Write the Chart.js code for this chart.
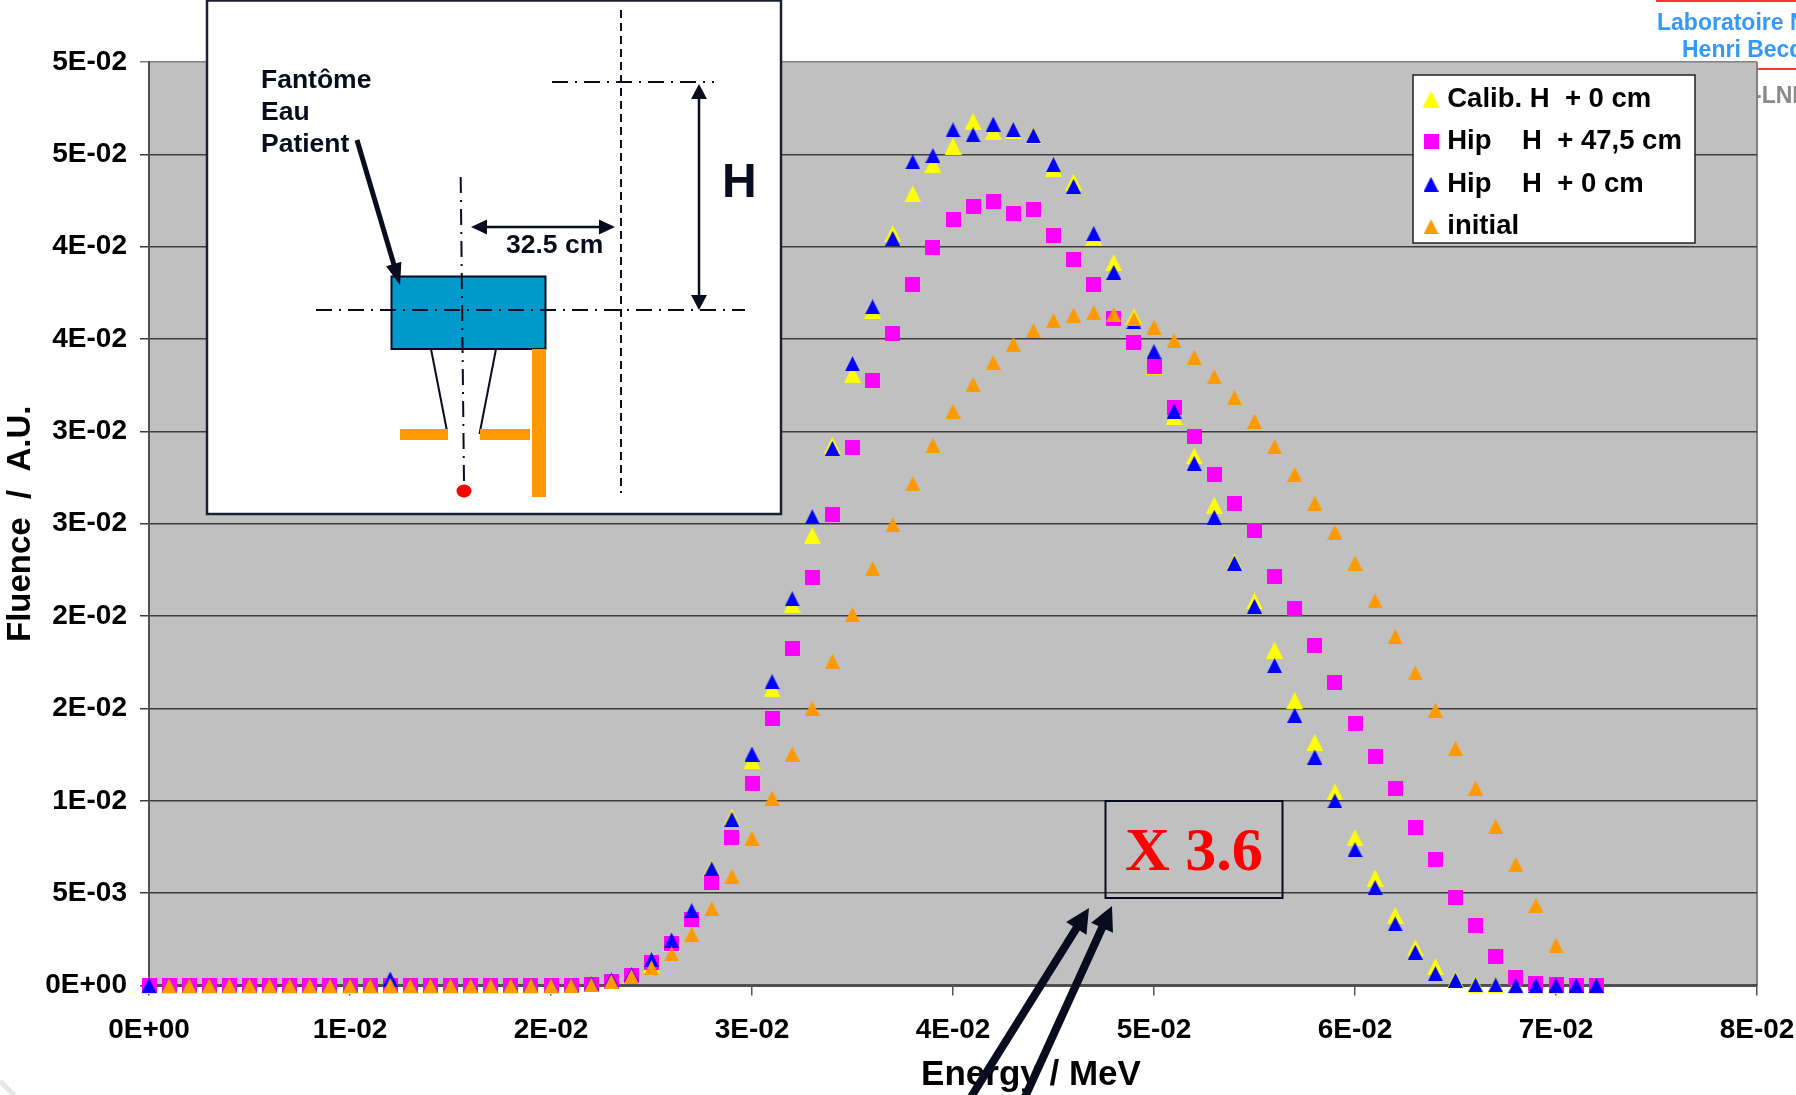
<!DOCTYPE html>
<html>
<head>
<meta charset="utf-8">
<title>Fluence / Energy</title>
<style>
    html, body { margin: 0; padding: 0; background: #fff; }
    canvas { display: block; }
</style>
<script src="https://cdn.jsdelivr.net/npm/chart.js@4/dist/chart.umd.min.js"></script>
</head>
<body>
<canvas id="grafico" width="1796" height="1095"></canvas>
<script>
// Values, one entry per energy step
const energy = [
    0.000, 0.001, 0.002, 0.003, 0.004, 0.005, 0.006, 0.007, 0.008, 0.009,
    0.010, 0.011, 0.012, 0.013, 0.014, 0.015, 0.016, 0.017, 0.018, 0.019,
    0.020, 0.021, 0.022, 0.023, 0.024, 0.025, 0.026, 0.027, 0.028, 0.029,
    0.030, 0.031, 0.032, 0.033, 0.034, 0.035, 0.036, 0.037, 0.038, 0.039,
    0.040, 0.041, 0.042, 0.043, 0.044, 0.045, 0.046, 0.047, 0.048, 0.049,
    0.050, 0.051, 0.052, 0.053, 0.054, 0.055, 0.056, 0.057, 0.058, 0.059,
    0.060, 0.061, 0.062, 0.063, 0.064, 0.065, 0.066, 0.067, 0.068, 0.069,
    0.070, 0.071, 0.072
];
const calibH0 = [
    0, 0, 0, 0, 0, 0, 0, 0, 0, 0,
    0, 0, 0, 0, 0, 0, 0, 0, 0, 0,
    0.00001, 0.00004, 0.00012, 0.00028, 0.00055, 0.00116, 0.00228, 0.00383, 0.00636, 0.00909,
    0.01217, 0.01607, 0.02062, 0.02437, 0.02925, 0.03309, 0.03655, 0.04071, 0.04286, 0.04444,
    0.04545, 0.04679, 0.04625, 0.04630, 0.04602, 0.04423, 0.04350, 0.04051, 0.03913, 0.03621,
    0.03349, 0.03080, 0.02867, 0.02600, 0.02293, 0.02082, 0.01816, 0.01542, 0.01315, 0.01048,
    0.00800, 0.00582, 0.00380, 0.00205, 0.00102, 0.00031, 0.00008, 0.00003, 0.00002, 0.00002,
    0.00002, 0.00002, 0.00002
];
const hipH475 = [
    0, 0, 0, 0, 0, 0, 0, 0, 0, 0,
    0, 0.00001, 0.00001, 0, 0, 0, 0, 0, 0, 0,
    0.00001, 0.00002, 0.00008, 0.00024, 0.00055, 0.00126, 0.00225, 0.00360, 0.00555, 0.00802,
    0.01093, 0.01443, 0.01826, 0.02208, 0.02549, 0.02912, 0.03273, 0.03531, 0.03793, 0.03995,
    0.04148, 0.04219, 0.04246, 0.04181, 0.04200, 0.04063, 0.03932, 0.03798, 0.03612, 0.03482,
    0.03354, 0.03128, 0.02971, 0.02766, 0.02609, 0.02462, 0.02215, 0.02042, 0.01842, 0.01639,
    0.01420, 0.01241, 0.01066, 0.00857, 0.00681, 0.00479, 0.00326, 0.00156, 0.00042, 0.00010,
    0.00003, 0, 0
];
const hipH0 = [
    0, 0, 0, 0, 0, 0, 0, 0, 0, 0,
    0, 0, 0.00035, 0, 0, 0, 0, 0, 0, 0,
    0, 0.00002, 0.00010, 0.00030, 0.00058, 0.00140, 0.00246, 0.00405, 0.00632, 0.00900,
    0.01253, 0.01645, 0.02093, 0.02537, 0.02908, 0.03366, 0.03674, 0.04045, 0.04459, 0.04493,
    0.04632, 0.04605, 0.04663, 0.04634, 0.04602, 0.04444, 0.04327, 0.04071, 0.03861, 0.03594,
    0.03432, 0.03109, 0.02827, 0.02535, 0.02287, 0.02053, 0.01732, 0.01463, 0.01237, 0.00999,
    0.00735, 0.00530, 0.00333, 0.00180, 0.00064, 0.00028, 0.00003, 0.00003, 0, 0,
    0, 0, 0
];
const initial = [
    null, 0, 0, 0, 0, 0, 0, 0, 0, 0,
    0, 0, 0, 0, 0, 0, 0, 0, 0, 0,
    0, 0.00001, 0.00004, 0.00021, 0.00050, 0.00096, 0.00171, 0.00277, 0.00416, 0.00591,
    0.00797, 0.01015, 0.01253, 0.01501, 0.01755, 0.02008, 0.02257, 0.02495, 0.02717, 0.02925,
    0.03110, 0.03255, 0.03374, 0.03472, 0.03545, 0.03600, 0.03630, 0.03643, 0.03634, 0.03609,
    0.03565, 0.03491, 0.03401, 0.03296, 0.03183, 0.03055, 0.02917, 0.02768, 0.02611, 0.02454,
    0.02287, 0.02083, 0.01889, 0.01692, 0.01490, 0.01284, 0.01069, 0.00862, 0.00656, 0.00434,
    0.00218, null, null
];

const xTickLabels = ['0E+00', '1E-02', '2E-02', '3E-02', '4E-02', '5E-02', '6E-02', '7E-02', '8E-02'];
const yTickLabels = ['0E+00', '5E-03', '1E-02', '2E-02', '2E-02', '3E-02', '3E-02', '4E-02', '4E-02', '5E-02', '5E-02'];

const FONT = '"Liberation Sans", Arial, sans-serif';
const DARK = '#080c1e';

// Excel style markers: centred on their box, unlike the built-in triangle
function triangleMarker(color, size) {
    const c = document.createElement('canvas');
    c.width = size;
    c.height = size;
    const g = c.getContext('2d');
    g.fillStyle = color;
    g.beginPath();
    g.moveTo(size / 2, 0);
    g.lineTo(size, size);
    g.lineTo(0, size);
    g.closePath();
    g.fill();
    return c;
}

function squareMarker(color, size) {
    const c = document.createElement('canvas');
    c.width = size;
    c.height = size;
    const g = c.getContext('2d');
    g.fillStyle = color;
    g.fillRect(0, 0, size, size);
    return c;
}

function points(values) {
    return values.map((v, i) => ({ x: energy[i], y: v }));
}

function line(ctx, x1, y1, x2, y2, width, dash) {
    ctx.save();
    ctx.lineWidth = width;
    ctx.strokeStyle = DARK;
    ctx.setLineDash(dash || []);
    ctx.beginPath();
    ctx.moveTo(x1, y1);
    ctx.lineTo(x2, y2);
    ctx.stroke();
    ctx.restore();
}

// Solid arrow head with its tip on (x2, y2), seen from (x1, y1)
function arrowHead(ctx, x1, y1, x2, y2, len, wid) {
    const a = Math.atan2(y2 - y1, x2 - x1);
    ctx.save();
    ctx.translate(x2, y2);
    ctx.rotate(a);
    ctx.fillStyle = DARK;
    ctx.beginPath();
    ctx.moveTo(0, 0);
    ctx.lineTo(-len, -wid / 2);
    ctx.lineTo(-len, wid / 2);
    ctx.closePath();
    ctx.fill();
    ctx.restore();
}

function arrow(ctx, x1, y1, x2, y2, width, len, wid) {
    const a = Math.atan2(y2 - y1, x2 - x1);
    line(ctx, x1, y1, x2 - Math.cos(a) * len * 0.8, y2 - Math.sin(a) * len * 0.8, width);
    arrowHead(ctx, x1, y1, x2, y2, len, wid);
}

function text(ctx, str, x, y, font, color) {
    ctx.save();
    ctx.font = font;
    ctx.fillStyle = color;
    ctx.textAlign = 'left';
    ctx.textBaseline = 'alphabetic';
    ctx.fillText(str, x, y);
    ctx.restore();
}

// Geometry sketch pasted over the top left of the plot
function drawInset(ctx) {
    const dashDot = [16, 7, 2, 7];
    ctx.save();
    ctx.fillStyle = '#fff';
    ctx.fillRect(207, 0.5, 574, 513.5);
    ctx.strokeStyle = '#1c2030';
    ctx.lineWidth = 2.5;
    ctx.strokeRect(207, 0.5, 574, 513.5);
    ctx.restore();

    text(ctx, 'Fantôme', 261, 88, 'bold 26.5px ' + FONT, DARK);
    text(ctx, 'Eau', 261, 120, 'bold 26.5px ' + FONT, DARK);
    text(ctx, 'Patient', 261, 152, 'bold 26.5px ' + FONT, DARK);

    ctx.save();
    ctx.fillStyle = '#0099cc';
    ctx.fillRect(391.5, 276.5, 154, 72.5);
    ctx.strokeStyle = DARK;
    ctx.lineWidth = 2;
    ctx.strokeRect(391.5, 276.5, 154, 72.5);
    ctx.restore();

    arrow(ctx, 357, 140, 400, 285, 5, 22, 16);

    line(ctx, 460.7, 177, 464, 483, 2, dashDot);
    line(ctx, 316, 310, 745, 310, 2, dashDot);
    line(ctx, 552, 82, 714, 82, 2, dashDot);
    line(ctx, 621, 10, 621, 493, 2, [8, 5]);

    arrowHead(ctx, 615, 227, 471, 227, 16, 15);
    arrowHead(ctx, 471, 227, 615, 227, 16, 15);
    line(ctx, 480, 227, 606, 227, 2.5);
    text(ctx, '32.5 cm', 506, 253, 'bold 26.5px ' + FONT, DARK);

    arrowHead(ctx, 699, 310, 699, 84, 15, 16);
    arrowHead(ctx, 699, 84, 699, 310, 15, 16);
    line(ctx, 699, 92, 699, 302, 2.5);
    text(ctx, 'H', 722, 197, 'bold 48px ' + FONT, DARK);

    line(ctx, 431, 349, 447, 431, 2);
    line(ctx, 496, 349, 479.5, 434, 2);

    ctx.save();
    ctx.fillStyle = '#ff9900';
    ctx.fillRect(400, 429, 48, 11);
    ctx.fillRect(480, 429, 50, 11);
    ctx.fillRect(532, 349, 14, 148);
    ctx.fillStyle = '#ff0000';
    ctx.beginPath();
    ctx.ellipse(464, 491, 7.5, 6.4, 0, 0, Math.PI * 2);
    ctx.fill();
    ctx.restore();
}

// Scaling factor box with the two arrows that run up to it
function drawFactorBox(ctx) {
    ctx.save();
    ctx.strokeStyle = DARK;
    ctx.lineWidth = 2;
    ctx.strokeRect(1105.5, 801, 177, 97);
    ctx.restore();
    text(ctx, 'X 3.6', 1125, 870, 'bold 62px "Liberation Serif", "Times New Roman", serif', '#ff0000');
    arrow(ctx, 971, 1097, 1089, 908, 8, 24, 24);
    arrow(ctx, 1025, 1097, 1112, 906, 8, 24, 24);
}

// Slide furniture and the grey plot area, all under the chart
const backgroundPlugin = {
    id: 'background',
    beforeDraw(chart) {
        const ctx  = chart.ctx;
        const area = chart.chartArea;
        ctx.save();
        ctx.fillStyle = '#fff';
        ctx.fillRect(0, 0, chart.width, chart.height);

        ctx.fillStyle = '#ff3333';
        ctx.fillRect(1656, 0, 140, 2);
        ctx.fillRect(1700, 68, 96, 2);
        text(ctx, 'Laboratoire National', 1657, 30, 'bold 23px ' + FONT, '#3399ff');
        text(ctx, 'Henri Becquerel', 1682, 57, 'bold 23px ' + FONT, '#3399ff');
        text(ctx, '-LNHB', 1754, 103, 'bold 23px ' + FONT, '#8a8a8a');

        ctx.strokeStyle = '#e6e6e6';
        ctx.lineWidth = 5;
        ctx.beginPath();
        ctx.moveTo(0, 1081);
        ctx.lineTo(14, 1095);
        ctx.stroke();

        ctx.fillStyle = '#c0c0c0';
        ctx.fillRect(area.left, area.top, area.width, area.height);
        ctx.fillStyle = '#808080';
        ctx.fillRect(area.right - 1, area.top, 2, area.height);
        ctx.restore();
    }
};

// Legend sits on top of the grid in its own white box, at a fixed place
const legendBoxPlugin = {
    id: 'legendBox',
    beforeLayout(chart) {
        const legend = chart.legend;
        legend._layers = () => [{
            z: 5,
            draw(area) {
                const ctx = chart.ctx;
                ctx.save();
                ctx.fillStyle = '#fff';
                ctx.fillRect(1413, 75, 282, 168);
                ctx.strokeStyle = '#222';
                ctx.lineWidth = 1.5;
                ctx.strokeRect(1413, 75, 282, 168);
                ctx.restore();
                legend.draw(area);
            }
        }];
    },
    afterLayout(chart) {
        const legend = chart.legend;
        const pad    = legend.options.labels.padding;
        legend.left   = 1428.5 - pad;
        legend.right  = 1796;
        legend.top    = 85.5 - pad;
        legend.bottom = 1095;

        // X axis title is not centred on the axis in the reference
        const xScale = chart.scales.x;
        if (!Object.prototype.hasOwnProperty.call(xScale, 'drawTitle')) {
            const drawTitle = xScale.drawTitle;
            xScale.drawTitle = function () {
                this.ctx.save();
                this.ctx.translate(78, 0);
                drawTitle.call(this);
                this.ctx.restore();
            };
        }
    }
};

const overlayPlugin = {
    id: 'overlay',
    afterDraw(chart) {
        drawInset(chart.ctx);
        drawFactorBox(chart.ctx);
    }
};

const grafico = new Chart(document.getElementById('grafico'), {
    type: 'scatter',
    data: {
        datasets: [
            { label: 'Calib. H  + 0 cm',     data: points(calibH0), pointStyle: triangleMarker('#ffff00', 17), order: 4 },
            { label: 'Hip    H  + 47,5 cm',  data: points(hipH475), pointStyle: squareMarker('#ff00ff', 15),   order: 3 },
            { label: 'Hip    H  + 0 cm',     data: points(hipH0),   pointStyle: triangleMarker('#0000ff', 15), order: 2 },
            { label: 'initial',              data: points(initial), pointStyle: triangleMarker('#ff9900', 15), order: 1 }
        ]
    },
    options: {
        responsive: false,
        animation: false,
        devicePixelRatio: 1,
        layout: { padding: { left: 0, top: 62, right: 39, bottom: 0 } },
        datasets: { scatter: { showLine: false, clip: false, pointRadius: 8, pointHoverRadius: 8 } },
        plugins: {
            tooltip: { enabled: false },
            legend: {
                position: 'chartArea',
                align: 'start',
                labels: {
                    usePointStyle: true,
                    pointStyleWidth: 5,
                    padding: 15,
                    color: '#000',
                    font: { family: FONT, size: 27.5, weight: 'bold' },
                    sort: (a, b) => a.datasetIndex - b.datasetIndex
                }
            }
        },
        scales: {
            x: {
                type: 'linear',
                min: 0,
                max: 0.08,
                afterFit(scale) {
                    scale.height = 109.5;
                    scale.paddingLeft = 0;
                    scale.paddingRight = 0;
                },
                grid: { drawOnChartArea: false, color: '#555', tickLength: 10, lineWidth: 1.5 },
                border: { color: '#505050', width: 3 },
                ticks: {
                    stepSize: 0.01,
                    autoSkip: false,
                    maxRotation: 0,
                    padding: 18,
                    color: '#000',
                    font: { family: FONT, size: 28, weight: 'bold' },
                    callback: (v, i) => xTickLabels[i]
                },
                title: {
                    display: true,
                    text: 'Energy / MeV',
                    color: '#000',
                    padding: { top: 0, bottom: 2 },
                    font: { family: FONT, size: 35, weight: 'bold', lineHeight: 1 }
                }
            },
            y: {
                type: 'linear',
                min: 0,
                max: 0.05,
                afterFit(scale) {
                    scale.width = 149;
                    scale.paddingTop = 0;
                    scale.paddingBottom = 0;
                },
                grid: {
                    color: (c) => c.index === 10 ? '#808080' : '#3c3c3c',
                    tickLength: 9,
                    lineWidth: 1.5
                },
                border: { color: '#505050', width: 2 },
                ticks: {
                    stepSize: 0.005,
                    autoSkip: false,
                    padding: 13,
                    color: '#000',
                    font: { family: FONT, size: 28, weight: 'bold' },
                    callback: (v, i) => yTickLabels[i]
                },
                title: {
                    display: true,
                    text: 'Fluence  /  A.U.',
                    color: '#000',
                    padding: { top: 1, bottom: 1 },
                    font: { family: FONT, size: 33, weight: 'bold' }
                }
            }
        }
    },
    plugins: [backgroundPlugin, legendBoxPlugin, overlayPlugin]
});
</script>
</body>
</html>
